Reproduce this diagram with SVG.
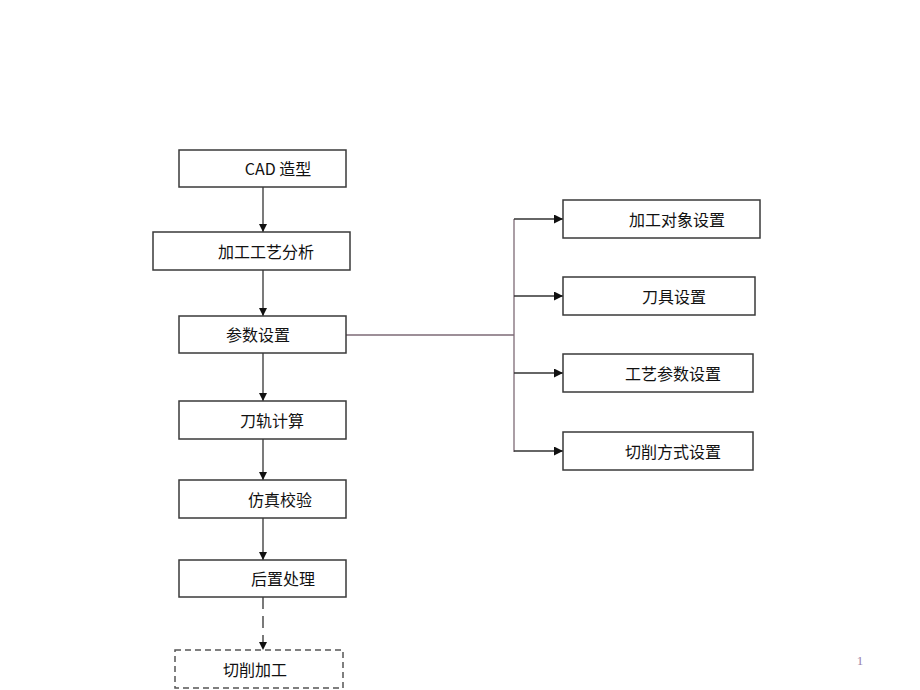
<svg xmlns="http://www.w3.org/2000/svg" width="920" height="690" viewBox="0 0 920 690">
<defs>
<marker id="arr" viewBox="0 0 10 10" refX="10" refY="5" markerWidth="8" markerHeight="8" markerUnits="userSpaceOnUse" orient="auto">
<path d="M0,0 L10,5 L0,10 z" fill="#111"/>
</marker>
<marker id="arrh" viewBox="0 0 10 10" refX="10" refY="5" markerWidth="9" markerHeight="9" markerUnits="userSpaceOnUse" orient="auto">
<path d="M0,0 L10,5 L0,10 z" fill="#111"/>
</marker>
</defs>
<style>
.box{fill:#fff;stroke:#3a3a3a;stroke-width:1.5}
.dbox{fill:#fff;stroke:#555;stroke-width:1.5;stroke-dasharray:6 4}
.t{font-family:"Noto Sans CJK SC","Liberation Sans",sans-serif;font-size:16px;fill:#111;text-anchor:middle;dominant-baseline:central}
.c{fill:none;stroke:#333;stroke-width:1.3}
.cp{fill:none;stroke:#7d6a76;stroke-width:1.3}
</style>
<rect width="920" height="690" fill="#fff"/>
<g id="connectors">
<line class="c" x1="263" y1="187" x2="263" y2="232" marker-end="url(#arr)"/>
<line class="c" x1="263" y1="270" x2="263" y2="316" marker-end="url(#arr)"/>
<line class="c" x1="263" y1="353" x2="263" y2="401" marker-end="url(#arr)"/>
<line class="c" x1="263" y1="439" x2="263" y2="480" marker-end="url(#arr)"/>
<line class="c" x1="263" y1="518" x2="263" y2="560" marker-end="url(#arr)"/>
<line class="c" x1="263" y1="597" x2="263" y2="650" stroke-dasharray="12 7" marker-end="url(#arr)"/>
<line class="cp" x1="346" y1="335" x2="514" y2="335"/>
<line class="cp" x1="514" y1="219" x2="514" y2="452"/>
<line class="c" x1="514" y1="219" x2="563" y2="219" marker-end="url(#arrh)"/>
<line class="c" x1="514" y1="296" x2="563" y2="296" marker-end="url(#arrh)"/>
<line class="c" x1="514" y1="373" x2="563" y2="373" marker-end="url(#arrh)"/>
<line class="c" x1="514" y1="451" x2="563" y2="451" marker-end="url(#arrh)"/>
</g>
<g id="n1"><rect class="box" x="179" y="150" width="167" height="37"/><text class="t" x="278" y="168">CAD 造型</text></g>
<g id="n2"><rect class="box" x="153" y="232" width="197" height="38"/><text class="t" x="266" y="251">加工工艺分析</text></g>
<g id="n3"><rect class="box" x="179" y="316" width="167" height="37"/><text class="t" x="258" y="334">参数设置</text></g>
<g id="n4"><rect class="box" x="179" y="401" width="167" height="38"/><text class="t" x="272" y="420">刀轨计算</text></g>
<g id="n5"><rect class="box" x="179" y="480" width="167" height="38"/><text class="t" x="280" y="499">仿真校验</text></g>
<g id="n6"><rect class="box" x="179" y="560" width="167" height="37"/><text class="t" x="283" y="578">后置处理</text></g>
<g id="n7"><rect class="dbox" x="175" y="650" width="168" height="38"/><text class="t" x="255" y="669">切削加工</text></g>
<g id="r1"><rect class="box" x="563" y="200" width="197" height="38"/><text class="t" x="677" y="219">加工对象设置</text></g>
<g id="r2"><rect class="box" x="563" y="277" width="192" height="38"/><text class="t" x="674" y="296">刀具设置</text></g>
<g id="r3"><rect class="box" x="563" y="354" width="190" height="38"/><text class="t" x="673" y="373">工艺参数设置</text></g>
<g id="r4"><rect class="box" x="563" y="432" width="190" height="38"/><text class="t" x="673" y="451">切削方式设置</text></g>
<text x="860" y="665" font-family="Liberation Serif,serif" font-size="13" fill="#9a7fa8" text-anchor="middle">1</text>
</svg>
